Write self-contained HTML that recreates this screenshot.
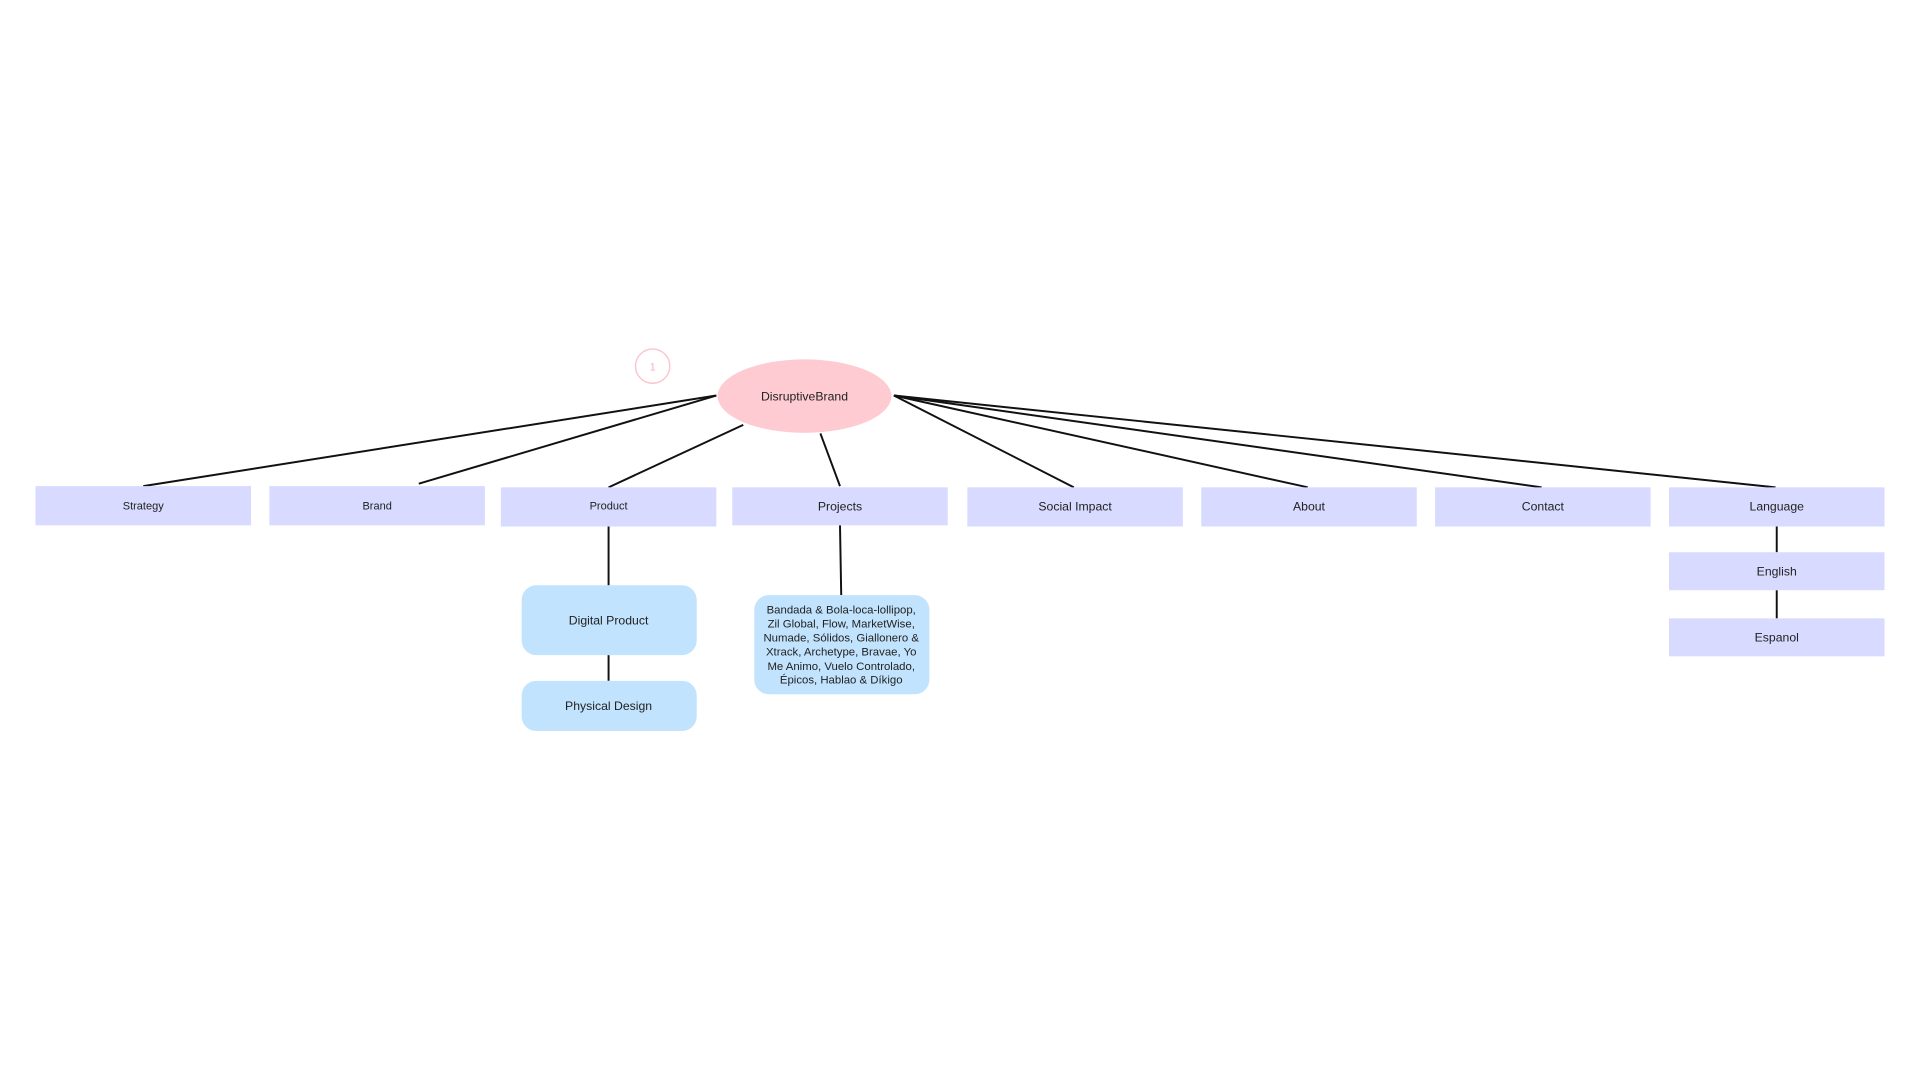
<!DOCTYPE html>
<html><head><meta charset="utf-8"><style>
html,body{margin:0;padding:0;background:#fff;width:1920px;height:1080px;overflow:hidden}
text{font-family:"Liberation Sans",sans-serif;fill:#222}
</style></head><body>
<svg width="1920" height="1080" viewBox="0 0 1568 882" xmlns="http://www.w3.org/2000/svg">
<g stroke="#111" stroke-width="1.6" fill="none">
<line x1="585" y1="323" x2="117" y2="397"/>
<line x1="585" y1="323" x2="342" y2="395"/>
<line x1="607" y1="347" x2="497" y2="398"/>
<line x1="670" y1="354" x2="686" y2="397"/>
<line x1="730" y1="323" x2="877" y2="398"/>
<line x1="730" y1="323" x2="1068" y2="398"/>
<line x1="730" y1="323" x2="1259" y2="398"/>
<line x1="730" y1="323" x2="1450" y2="398"/>
<line x1="497" y1="429" x2="497" y2="478"/>
<line x1="497" y1="535" x2="497" y2="556"/>
<line x1="686" y1="429" x2="687" y2="486"/>
<line x1="1451" y1="429" x2="1451" y2="451"/>
<line x1="1451" y1="482" x2="1451" y2="505"/>
</g>
<ellipse cx="657" cy="323.5" rx="71" ry="30" fill="#fecbd2"/>
<text x="657" y="327" font-size="10" text-anchor="middle">DisruptiveBrand</text>
<circle cx="533" cy="299" r="14" fill="none" stroke="#fbc6d0" stroke-width="1.2"/>
<text x="533" y="302.5" font-size="9" text-anchor="middle" style="fill:#f5b4c2">1</text>
<g fill="#d8daff">
<rect x="29" y="397" width="176" height="32"/>
<rect x="220" y="397" width="176" height="32"/>
<rect x="409" y="398" width="176" height="32"/>
<rect x="598" y="398" width="176" height="31"/>
<rect x="790" y="398" width="176" height="32"/>
<rect x="981" y="398" width="176" height="32"/>
<rect x="1172" y="398" width="176" height="32"/>
<rect x="1363" y="398" width="176" height="32"/>
<rect x="1363" y="451" width="176" height="31"/>
<rect x="1363" y="505" width="176" height="31"/>
</g>
<g fill="#c1e3fd">
<rect x="426" y="478" width="143" height="57" rx="12"/>
<rect x="426" y="556" width="143" height="41" rx="12"/>
<rect x="616" y="486" width="143" height="81" rx="12"/>
</g>
<g font-size="9" text-anchor="middle">
<text x="117" y="416">Strategy</text>
<text x="308" y="416">Brand</text>
<text x="497" y="416">Product</text>
</g>
<g font-size="10" text-anchor="middle">
<text x="686" y="417">Projects</text>
<text x="878" y="417">Social Impact</text>
<text x="1069" y="417">About</text>
<text x="1260" y="417">Contact</text>
<text x="1451" y="417">Language</text>
<text x="1451" y="470">English</text>
<text x="1451" y="524">Espanol</text>
<text x="497" y="510">Digital Product</text>
<text x="497" y="580">Physical Design</text>
</g>
<g font-size="9.3" text-anchor="middle">
<text x="687" y="501">Bandada &amp; Bola-loca-lollipop,</text>
<text x="687" y="512.5">Zil Global, Flow, MarketWise,</text>
<text x="687" y="524">Numade, Sólidos, Giallonero &amp;</text>
<text x="687" y="535.5">Xtrack,  Archetype, Bravae, Yo</text>
<text x="687" y="547">Me Animo, Vuelo Controlado,</text>
<text x="687" y="558">Épicos, Hablao &amp; Díkigo</text>
</g>
</svg>
</body></html>
